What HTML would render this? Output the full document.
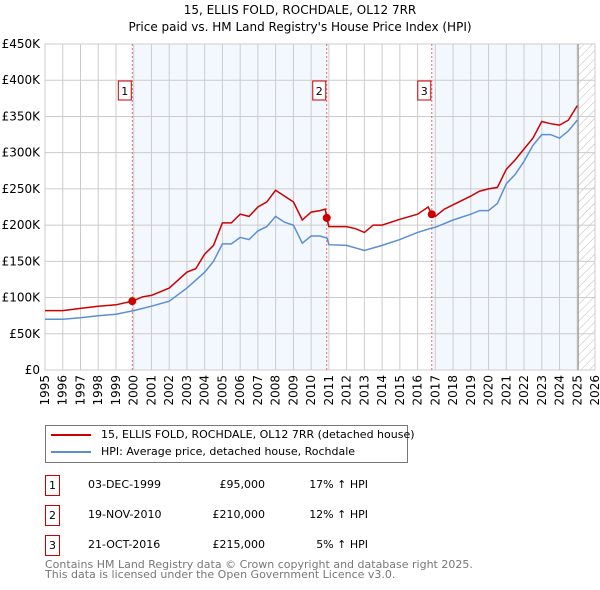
<!DOCTYPE html>
<html><head><meta charset="utf-8">
<style>
body{margin:0;background:#fff;font-family:"DejaVu Sans","Liberation Sans",sans-serif;}
#wrap{position:relative;width:600px;height:590px;}
.t{position:absolute;font-size:11px;color:#000;white-space:nowrap}
svg text{font-family:"DejaVu Sans","Liberation Sans",sans-serif;}
</style></head><body>
<div id="wrap">
<div class="t" style="left:0;width:600px;text-align:center;top:3px;font-size:12px">15, ELLIS FOLD, ROCHDALE, OL12 7RR</div>
<div class="t" style="left:0;width:600px;text-align:center;top:20px;font-size:12px">Price paid vs. HM Land Registry's House Price Index (HPI)</div>
<svg id="chart" width="600" height="410" style="position:absolute;left:0;top:0"></svg>
<div style="position:absolute;left:45px;top:425px;width:361px;height:36px;border:1px solid #777;">
 <div style="position:absolute;left:5px;top:8px;width:40px;height:2px;background:#cc0000"></div>
 <div class="t" style="left:55px;top:2px">15, ELLIS FOLD, ROCHDALE, OL12 7RR (detached house)</div>
 <div style="position:absolute;left:5px;top:25px;width:40px;height:2px;background:#5b8fd4"></div>
 <div class="t" style="left:55px;top:19px">HPI: Average price, detached house, Rochdale</div>
</div>
<div id="table"></div>
<div class="t" style="left:45px;top:560px;color:#777;line-height:10px;font-size:11px">Contains HM Land Registry data © Crown copyright and database right 2025.<br>This data is licensed under the Open Government Licence v3.0.</div>
</div>
<script>
const hpiYears=[1995,1996,1997,1998,1999,2000,2001,2002,2003,2004,2004.5,2005,2005.5,2006,2006.5,2007,2007.5,2008,2008.5,2009,2009.5,2010,2010.5,2010.9,2011,2012,2013,2014,2015,2016,2016.8,2017,2018,2019,2019.5,2020,2020.5,2021,2021.5,2022,2022.5,2023,2023.5,2024,2024.5,2025];
const hpiValues=[70,70,72,75,77,82,88,95,113,135,150,174,174,183,180,192,198,212,204,200,175,185,185,182,173,172,165,172,180,190,196,197,207,215,220,220,230,257,270,288,310,325,325,320,330,345];
const propYears=[1995,1996,1997,1998,1999,1999.92,2000.5,2001,2002,2003,2003.5,2004,2004.5,2005,2005.5,2006,2006.5,2007,2007.5,2008,2008.5,2009,2009.5,2010,2010.5,2010.8,2010.88,2011,2012,2012.5,2013,2013.5,2014,2015,2016,2016.6,2016.8,2017,2017.5,2018,2019,2019.5,2020,2020.5,2021,2021.5,2022,2022.5,2023,2023.5,2024,2024.5,2025];
const propValues=[82,82,85,88,90,95,101,103,113,135,140,160,172,203,203,215,212,225,232,248,240,232,207,218,220,222,210,198,198,195,190,200,200,208,215,225,215,212,222,228,240,247,250,252,277,290,305,320,343,340,338,345,365];
const saleLabels=["1","2","3"];
const saleDates=["03-DEC-1999","19-NOV-2010","21-OCT-2016"];
const saleYears=[1999.92,2010.88,2016.8];
const salePrices=[95,210,215];
const saleText=["£95,000","£210,000","£215,000"];
const saleHpi=["17% ↑ HPI","12% ↑ HPI","5% ↑ HPI"];
const yTicks=[0,50,100,150,200,250,300,350,400,450];
const xTicks=[1995,1996,1997,1998,1999,2000,2001,2002,2003,2004,2005,2006,2007,2008,2009,2010,2011,2012,2013,2014,2015,2016,2017,2018,2019,2020,2021,2022,2023,2024,2025,2026];

const L=45,R=595,T=44,B=370,x0=1995,x1=2026,yMax=450,dataEnd=2025.05;
const X=v=>L+(v-x0)/(x1-x0)*(R-L);
const Y=v=>B-v/yMax*(B-T);
const NS="http://www.w3.org/2000/svg";
const svg=document.getElementById('chart');
function mk(tag,attrs,parent){const e=document.createElementNS(NS,tag);for(const k in attrs)e.setAttribute(k,attrs[k]);(parent||svg).appendChild(e);return e;}
const defs=mk('defs',{});
const pat=mk('pattern',{id:'hatch',width:6,height:6,patternUnits:'userSpaceOnUse',patternTransform:'rotate(45)'},defs);
mk('line',{x1:0,y1:0,x2:0,y2:6,stroke:'#bbb','stroke-width':1},pat);
let r=mk('rect',{x:X(saleYears[0]),y:T,width:X(saleYears[1])-X(saleYears[0]),height:B-T,fill:'#eef3fd',opacity:0.7});

r=mk('rect',{x:X(saleYears[2]),y:T,width:X(dataEnd)-X(saleYears[2]),height:B-T,fill:'#eef3fd',opacity:0.7});

r=mk('rect',{x:X(dataEnd),y:T,width:R-X(dataEnd),height:B-T,fill:'url(#hatch)'});

yTicks.forEach(v=>{
 const g=mk('line',{x1:L,x2:R,y1:Y(v),y2:Y(v),stroke:'#ccc','stroke-width':1});
 
 const t=mk('text',{x:L-5,y:Y(v)+4,'text-anchor':'end','font-size':12,fill:'#000'});
 t.textContent=v===0?'£0':'£'+v+'K';
 
});
xTicks.forEach(v=>{
 const g=mk('line',{x1:X(v),x2:X(v),y1:T,y2:B,stroke:'#ccc','stroke-width':1});
 
 const t=mk('text',{x:0,y:0,'text-anchor':'end','font-size':12,fill:'#000',transform:`translate(${X(v)+4},${B+5}) rotate(-90)`});
 t.textContent=v;
 
});
let fr=mk('rect',{x:L,y:T,width:R-L,height:B-T,fill:'none',stroke:'#ccc'});

let el=mk('line',{x1:X(dataEnd),x2:X(dataEnd),y1:T,y2:B,stroke:'#888','stroke-width':1});

saleYears.forEach((v,i)=>{
 const l=mk('line',{x1:X(v),x2:X(v),y1:T,y2:B,stroke:'#e66','stroke-width':1,'stroke-dasharray':'2,2'});
 
});
function path(xs,ys){return xs.map((x,i)=>(i?'L':'M')+X(x).toFixed(1)+','+Y(ys[i]).toFixed(1)).join('');}
let p=mk('path',{d:path(hpiYears,hpiValues),fill:'none',stroke:'#5b8fd4','stroke-width':1.5});

p=mk('path',{d:path(propYears,propValues),fill:'none',stroke:'#cc0000','stroke-width':1.5});

saleYears.forEach((v,i)=>{
 const c=mk('circle',{cx:X(v),cy:Y(salePrices[i]),r:4,fill:'#cc0000'});
 
 const b=mk('rect',{x:X(v)-14,y:81,width:13,height:19,fill:'#fff',stroke:'#cc0000'});
 
 const t=mk('text',{x:X(v)-7.5,y:95,'text-anchor':'middle','font-size':11});
 t.textContent=saleLabels[i];
 
});
const tb=document.getElementById('table');
saleLabels.forEach((s,i)=>{
 const top=475+i*30;
 const row=document.createElement('div');
 
 
 row.innerHTML=`<div style="position:absolute;left:45px;top:${top}px;width:13px;height:19px;border:1px solid #cc0000;font-size:11px;text-align:center;line-height:19px">${s}</div>`+
 `<div class="t" style="left:88px;top:${top+3}px">${saleDates[i]}</div>`+
 `<div class="t" style="left:180px;width:85px;text-align:right;top:${top+3}px">${saleText[i]}</div>`+
 `<div class="t" style="left:290px;width:78px;text-align:right;top:${top+3}px">${saleHpi[i]}</div>`;
 tb.appendChild(row);
});
</script>
</body></html>
